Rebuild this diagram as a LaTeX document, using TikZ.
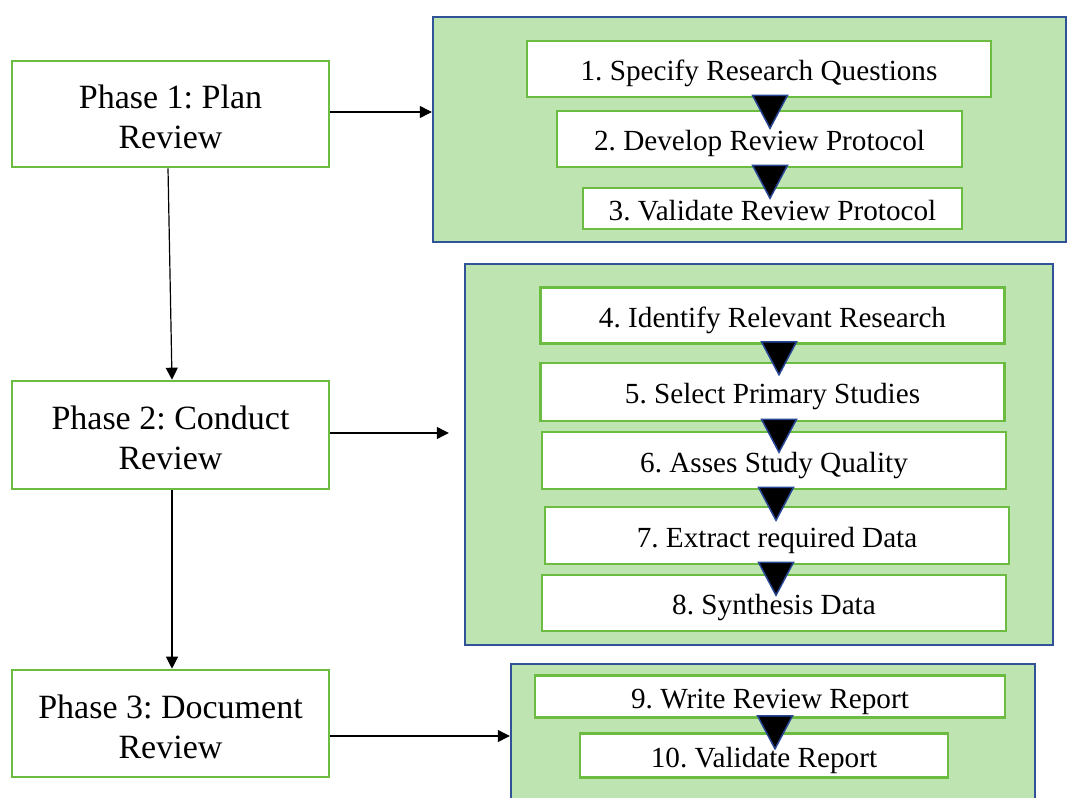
\documentclass[tikz,border=0pt]{standalone}
\usepackage{fontspec}
\setmainfont{Liberation Serif}
\usetikzlibrary{calc,arrows.meta}
\definecolor{boxgreen}{RGB}{108,188,66}
\definecolor{panelfill}{RGB}{190,228,177}
\definecolor{panelblue}{RGB}{48,82,150}
\definecolor{tripblue}{RGB}{40,70,150}
% taller first line, so the two-line phase labels sit a little low
\newcommand\phtop{\rule{0pt}{29.5pt}}
\begin{document}
\begin{tikzpicture}[x=1pt,y=-1pt,
  phase/.style={draw=boxgreen, line width=2.6pt, fill=white, inner sep=0pt,
    minimum width=317pt, align=center, font=\fontsize{34}{40}\selectfont\frenchspacing},
  panel/.style={draw=panelblue, line width=2.4pt, fill=panelfill, inner sep=0pt},
  stepbox/.style={draw=boxgreen, line width=2.6pt, fill=white, inner sep=0pt,
    text height=23pt, text depth=0pt, font=\fontsize{29.2}{34}\selectfont\frenchspacing},
  flow/.style={line width=1.2pt, -{Triangle[length=12pt,width=12pt]}},
  tri/.style={fill=black, draw=tripblue, line width=1.5pt, line join=miter}]
\useasboundingbox (0,0) rectangle (1067,797);
\clip (0,0) rectangle (1067,797);

% phase boxes
\node[phase, minimum height=106pt] (p1) at (170.5,114) {\phtop Phase 1: Plan\\Review};
\node[phase, minimum height=108pt] (p2) at (170.5,435) {\phtop Phase 2: Conduct\\Review};
\node[phase, minimum height=107pt] (p3) at (170.5,723.5) {\phtop Phase 3: Document\\Review};

% activity panels
\node[panel, minimum width=633pt, minimum height=225pt] (g1) at (749.5,129.5) {};
\node[panel, minimum width=588pt, minimum height=381pt] (g2) at (759,454.5) {};
\node[panel, minimum width=524pt, minimum height=166pt] (g3) at (773,747) {};

% steps of phase 1
\node[stepbox, minimum width=464pt, minimum height=56pt] (s1) at (759,69) {1. Specify Research Questions};
\node[stepbox, minimum width=405pt, minimum height=56pt] (s2) at (759.5,139) {2. Develop Review Protocol};
\node[stepbox, minimum width=379pt, minimum height=41pt] (s3) at (772.5,208.5) {3. Validate Review Protocol};

% steps of phase 2
\node[stepbox, minimum width=464pt, minimum height=56pt] (s4) at (772.5,315.5) {4. Identify Relevant Research};
\node[stepbox, minimum width=464pt, minimum height=58pt] (s5) at (772.5,392) {5. Select Primary Studies};
\node[stepbox, minimum width=464pt, minimum height=57pt] (s6) at (774,460.5) {6. Asses Study Quality};
\node[stepbox, minimum width=464pt, minimum height=57pt] (s7) at (777,535.5) {7. Extract required Data};
\node[stepbox, minimum width=464pt, minimum height=56pt] (s8) at (774,603) {8. Synthesis Data};

% steps of phase 3
\node[stepbox, minimum width=470pt, minimum height=42pt] (s9) at (770,696.5) {9. Write Review Report};
\node[stepbox, minimum width=368pt, minimum height=44pt] (s10) at (764,755.5) {10. Validate Report};

% axes of the step markers
\coordinate (a1) at (770,0);
\coordinate (a2) at (779,0);
\coordinate (a3) at (776,0);
\coordinate (a4) at (775,0);

% step markers between consecutive steps
\foreach \u/\ax in {s1/a1, s2/a1, s4/a2, s5/a2, s6/a3, s7/a3, s9/a4}
  \draw[tri] ($(\ax |- \u.south)+(-17.5,-3)$) -- ++(35,0) -- ++(-17.5,33) -- cycle;

% arrow start points on the phase boxes
\coordinate (e1) at ([yshift=2pt]p1.east);
\coordinate (e2) at ([yshift=2pt]p2.east);
\coordinate (e3) at ([yshift=-12.5pt]p3.east);

% phase flow
\draw[flow] ([xshift=-2.5pt]p1.south) -- ([xshift=1.5pt]p2.north);
\draw[flow] ([xshift=1.5pt]p2.south) -- ([xshift=1.5pt]p3.north);

% phases to their activities
\draw[flow] (e1) -- (g1.west |- e1);
\draw[flow, shorten >=15pt] (e2) -- (g2.west |- e2);
\draw[flow] (e3) -- (g3.west |- e3);
\end{tikzpicture}
\end{document}
